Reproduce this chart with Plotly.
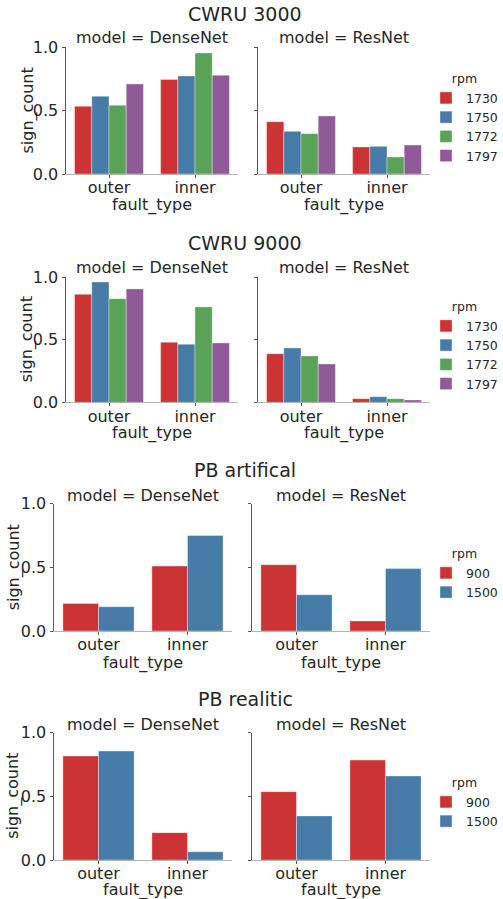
import plotly.graph_objects as go

# ---------------- data ----------------
fault_types = ["outer", "inner"]
models = ["DenseNet", "ResNet"]
cwru_rpm = ["1730", "1750", "1772", "1797"]
pb_rpm = ["900", "1500"]

# values per rpm: [outer, inner]
cwru3000_densenet = [[0.533, 0.745], [0.612, 0.772], [0.541, 0.953], [0.709, 0.777]]
cwru3000_resnet = [[0.412, 0.213], [0.336, 0.218], [0.318, 0.134], [0.457, 0.228]]
cwru9000_densenet = [[0.864, 0.480], [0.963, 0.464], [0.829, 0.763], [0.907, 0.475]]
cwru9000_resnet = [[0.389, 0.029], [0.435, 0.045], [0.371, 0.029], [0.307, 0.019]]
pbart_densenet = [[0.217, 0.510], [0.191, 0.751]]
pbart_resnet = [[0.521, 0.079], [0.285, 0.490]]
pbreal_densenet = [[0.817, 0.215], [0.856, 0.065]]
pbreal_resnet = [[0.537, 0.785], [0.346, 0.660]]

block_titles = ["CWRU 3000", "CWRU 9000", "PB artifical", "PB realitic"]
x_title = "fault_type"
y_title = "sign_count"
yticks = [0.0, 0.5, 1.0]

colors = ["#cb3335", "#477ca8", "#59a257", "#905998"]

blocks = [
    (block_titles[0], cwru_rpm, cwru3000_densenet, cwru3000_resnet),
    (block_titles[1], cwru_rpm, cwru9000_densenet, cwru9000_resnet),
    (block_titles[2], pb_rpm, pbart_densenet, pbart_resnet),
    (block_titles[3], pb_rpm, pbreal_densenet, pbreal_resnet),
]

# ---------------- layout geometry (pixels) ----------------
W, H = 503, 899
def px(x):
    return x / W
def py(y):
    return 1 - y / H

geo = [
    dict(x=[(66, 238), (258, 430)], y=(47, 174), sup=14, sub=38, leg=67, xt=205, yt=27),
    dict(x=[(66, 238), (258, 430)], y=(277.3, 402.3), sup=243, sub=267, leg=295, xt=433, yt=26.5),
    dict(x=[(54, 232), (252, 430)], y=(503.7, 631), sup=470, sub=495, leg=542, xt=662.5, yt=14),
    dict(x=[(54, 232), (252, 430)], y=(732.7, 860), sup=699, sub=724, leg=771, xt=889.5, yt=13.5),
]

FONT = "DejaVu Sans"
TXT = "#262626"

fig = go.Figure()
layout = dict(
    width=W, height=H,
    margin=dict(l=0, r=0, t=0, b=0, autoexpand=False),
    paper_bgcolor="white", plot_bgcolor="white",
    font=dict(family=FONT, color=TXT, size=16),
    barmode="group", bargap=0.2, bargroupgap=0,
    annotations=[],
)

def note(text, x, y, size=16, angle=0):
    return dict(text=text, x=px(x), y=py(y), xref="paper", yref="paper",
                showarrow=False, xanchor="center", yanchor="middle",
                textangle=angle, font=dict(size=size, color=TXT))

k = 0
for b, (title, rpms, dense, res) in enumerate(blocks):
    g = geo[b]
    legname = "legend" if b == 0 else "legend%d" % (b + 1)
    ytop, ybot = g["y"]
    for m, (model, vals) in enumerate(zip(models, [dense, res])):
        k += 1
        xa = "x" if k == 1 else "x%d" % k
        ya = "y" if k == 1 else "y%d" % k
        for i, rpm in enumerate(rpms):
            fig.add_trace(go.Bar(
                x=fault_types, y=vals[i], name=rpm,
                marker=dict(color=colors[i], line=dict(color="rgba(255,255,255,0.45)", width=0.8)),
                xaxis=xa, yaxis=ya,
                legend=legname, legendgroup="b%d_%s" % (b, rpm),
                showlegend=(m == 1),
            ))
        x0, x1 = g["x"][m]
        layout["xaxis" if k == 1 else "xaxis%d" % k] = dict(
            domain=[px(x0), px(x1)], anchor=ya,
            type="category", range=[-0.5, 1.5],
            showline=True, linecolor="#b4b4b4", linewidth=1,
            ticks="outside", ticklen=3, tickcolor="#555", tickwidth=1,
            ticklabelstandoff=-4,
            showgrid=False, zeroline=False,
            tickfont=dict(size=16, color=TXT),
        )
        layout["yaxis" if k == 1 else "yaxis%d" % k] = dict(
            domain=[py(ybot), py(ytop)], anchor=xa,
            range=[0, 1.0], tickvals=yticks, tickformat=".1f",
            showline=True, linecolor="#555", linewidth=1,
            ticks="outside", ticklen=3.5, tickcolor="#555", tickwidth=1,
            showgrid=False, zeroline=False,
            showticklabels=(m == 0),
            tickfont=dict(size=16, color=TXT),
        )
        # facet title and axis titles
        layout["annotations"].append(note("model = %s" % model, (x0 + x1) / 2, g["sub"]))
        layout["annotations"].append(note(x_title, (x0 + x1) / 2, g["xt"]))
        if m == 0:
            layout["annotations"].append(note(y_title, g["yt"], (ytop + ybot) / 2, angle=-90))
    layout["annotations"].append(note(title, 245, g["sup"], size=19))
    layout[legname] = dict(
        x=1.0, y=py(g["leg"]), xanchor="right", yanchor="top",
        bgcolor="rgba(0,0,0,0)", borderwidth=0,
        font=dict(size=12.5, color=TXT),
        title=dict(text="rpm", side="top center", font=dict(size=12.5, color=TXT)),
        tracegroupgap=0, itemwidth=30,
    )

fig.update_layout(**layout)
# remove the browser's default 8px body margin so the figure fills the window
fig.write_html("out.html", config={"displayModeBar": False},
               post_script="document.body.style.margin='0';")
